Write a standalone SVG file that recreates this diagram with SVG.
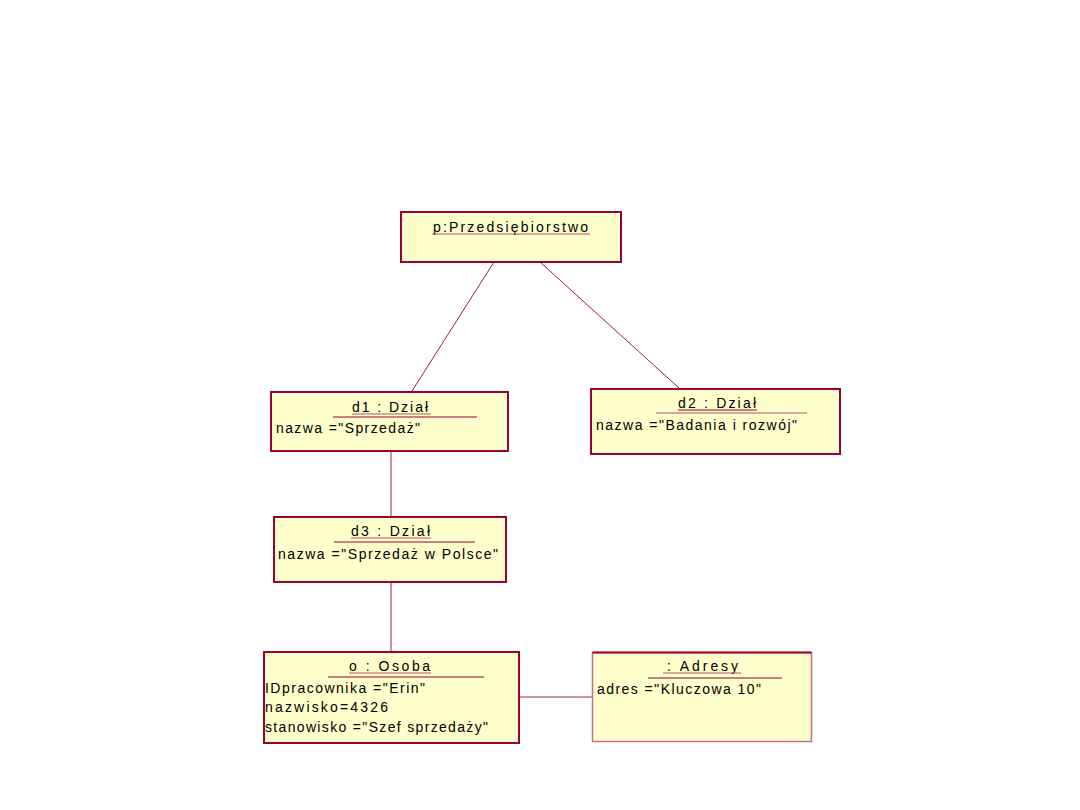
<svg xmlns="http://www.w3.org/2000/svg" width="1080" height="810" viewBox="0 0 1080 810">
<style>
.box{fill:#ffffcc;stroke:#990033;stroke-width:2}
.box2{fill:#ffffcc;stroke:#c07088;stroke-width:1.5}
.t{font-family:"Liberation Sans",Arial,sans-serif;font-size:14px;fill:#000}
.ul{stroke:#c0506a;stroke-width:1.2}
.sep{stroke:#990033;stroke-width:1.2}
.conn{stroke:#a0203c;stroke-width:1;fill:none}
</style>
<rect width="1080" height="810" fill="#ffffff"/>
<g id="connectors">
<line class="conn" x1="494" y1="262" x2="412" y2="391"/>
<line class="conn" x1="540" y1="262" x2="679" y2="388"/>
<line class="conn" x1="391" y1="451" x2="391" y2="516"/>
<line class="conn" x1="391" y1="582" x2="391" y2="651"/>
<line class="conn" x1="519" y1="697" x2="592" y2="697"/>
</g>
<g id="p">
<rect class="box" x="401" y="212" width="220" height="50"/>
<text class="t" x="433" y="232" textLength="155" lengthAdjust="spacing">p:Przedsiębiorstwo</text>
<line class="ul" x1="432" y1="234" x2="590" y2="234"/>
</g>
<g id="d1">
<rect class="box" x="271" y="392" width="237" height="59"/>
<text class="t" x="352" y="412" textLength="76" lengthAdjust="spacing">d1 : Dział</text>
<line class="ul" x1="352" y1="414" x2="431" y2="414"/>
<line class="sep" x1="333" y1="417" x2="477" y2="417"/>
<text class="t" x="276" y="433" textLength="144" lengthAdjust="spacing">nazwa ="Sprzedaż"</text>
</g>
<g id="d2">
<rect class="box" x="591" y="389" width="249" height="65"/>
<text class="t" x="678" y="408" textLength="78" lengthAdjust="spacing">d2 : Dział</text>
<line class="sep" x1="678" y1="410" x2="757" y2="410"/>
<line class="ul" x1="656" y1="413" x2="807" y2="413"/>
<text class="t" x="596" y="430" textLength="201" lengthAdjust="spacing">nazwa ="Badania i rozwój"</text>
</g>
<g id="d3">
<rect class="box" x="274" y="517" width="232" height="65"/>
<text class="t" x="351" y="536" textLength="79" lengthAdjust="spacing">d3 : Dział</text>
<line class="ul" x1="351" y1="538" x2="431" y2="538"/>
<line class="sep" x1="334" y1="542" x2="475" y2="542"/>
<text class="t" x="278" y="559" textLength="220" lengthAdjust="spacing">nazwa ="Sprzedaż w Polsce"</text>
</g>
<g id="o">
<rect class="box" x="264" y="652" width="255" height="91"/>
<text class="t" x="349" y="671" textLength="81" lengthAdjust="spacing">o : Osoba</text>
<line class="ul" x1="349" y1="673" x2="431" y2="673"/>
<line class="sep" x1="328" y1="677" x2="484" y2="677"/>
<text class="t" x="265" y="693" textLength="160" lengthAdjust="spacing">IDpracownika ="Erin"</text>
<text class="t" x="265" y="712" textLength="123" lengthAdjust="spacing">nazwisko=4326</text>
<text class="t" x="265" y="732" textLength="223" lengthAdjust="spacing">stanowisko ="Szef sprzedaży"</text>
</g>
<g id="adresy">
<rect class="box2" x="592.5" y="652.5" width="219" height="89"/>
<line x1="592.5" y1="652.5" x2="811.5" y2="652.5" stroke="#990033" stroke-width="2"/>
<text class="t" x="667" y="671" textLength="71" lengthAdjust="spacing">: Adresy</text>
<line class="ul" x1="663" y1="673" x2="741" y2="673"/>
<line class="sep" x1="648" y1="678" x2="782" y2="678"/>
<text class="t" x="597" y="694" textLength="164" lengthAdjust="spacing">adres ="Kluczowa 10"</text>
</g>
</svg>
